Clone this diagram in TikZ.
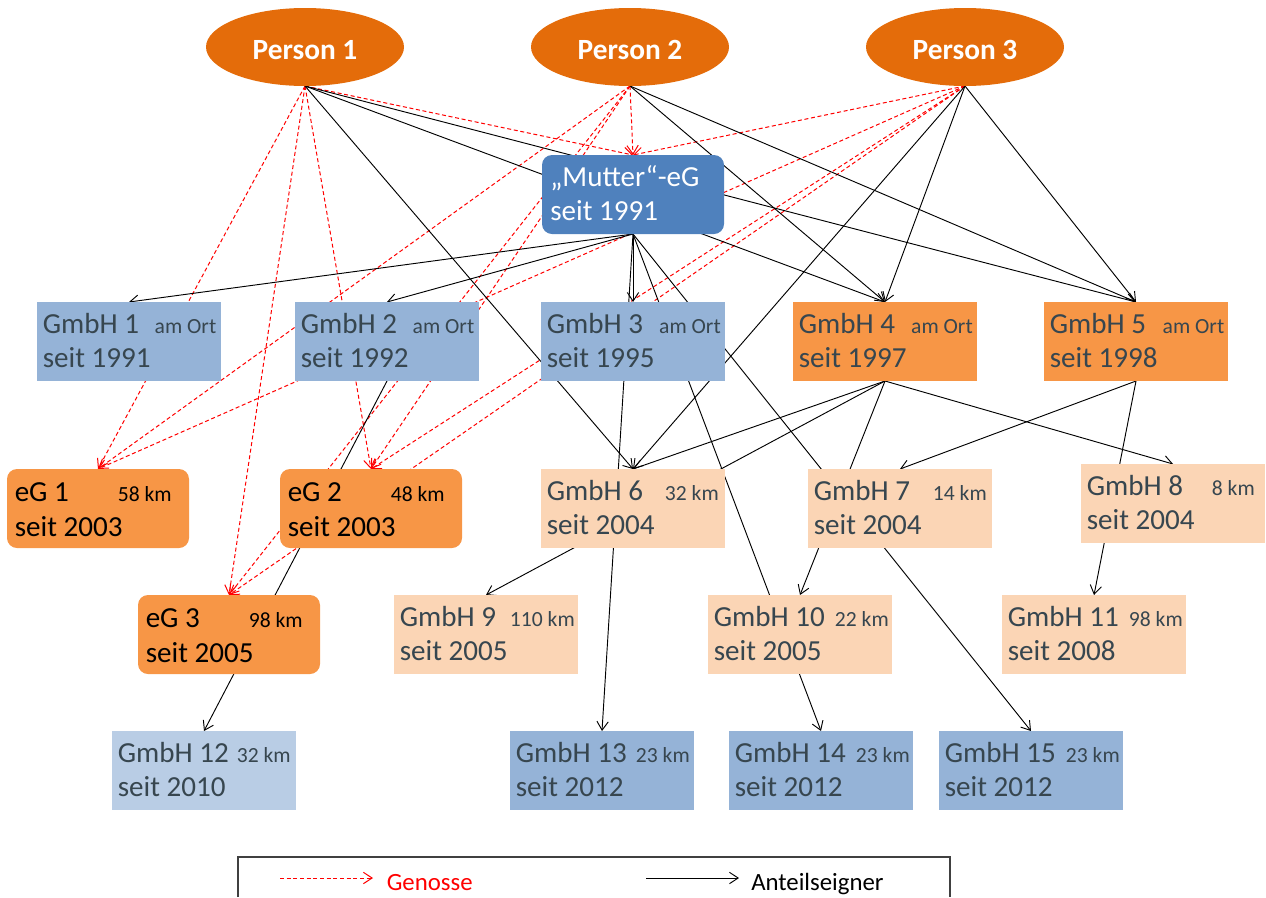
\documentclass[tikz,border=0pt]{standalone}
\usepackage{fontspec}
\setmainfont{Carlito}
\usetikzlibrary{shapes.geometric,arrows.meta,calc}
\pgfdeclarelayer{bg}
\pgfsetlayers{bg,main}
\definecolor{porange}{RGB}{228,108,10}
\definecolor{mblue}{RGB}{79,129,189}
\definecolor{lblue}{RGB}{149,179,215}
\definecolor{llblue}{RGB}{185,205,229}
\definecolor{orng}{RGB}{247,150,70}
\definecolor{peach}{RGB}{251,213,181}
\definecolor{txtgray}{RGB}{55,70,79}
\tikzset{
  box/.style={rectangle,draw=none,minimum width=138pt,minimum height=59.25pt,inner sep=0pt,outer sep=0pt},
  person/.style={ellipse,fill=porange,draw=none,minimum width=148.5pt,minimum height=58.5pt,inner sep=0pt,outer sep=0pt},
  ptxt/.style={anchor=base,text=white,font=\fontsize{22}{26}\selectfont\bfseries,inner sep=0pt},
  txt/.style={text=txtgray,font=\fontsize{21.8}{26}\selectfont,inner sep=0pt},
  sm/.style={text=txtgray,font=\fontsize{16.2}{19}\selectfont,inner sep=0pt},
  legtxt/.style={font=\fontsize{18.6}{22}\selectfont,inner sep=0pt,anchor=base west},
  tipv/.style={-{Straight Barb[length=6.5pt,width=8.5pt]}},
  gen/.style={red,line width=0.75pt,dash pattern=on 3pt off 2pt,tipv},
  own/.style={black,line width=0.7pt,tipv},
  legframe/.style={draw=black!75,line width=1.1pt}
}
% name, left, top, fill, main, small, year, gap
\newcommand\firm[8]{%
  \node[box,fill=#4] (#1) at (#2+92,#3+39.5) {};
  \node[txt,anchor=base west] (#1a) at ($(#1.north west)+(5.5,31)$) {#5};
  \node[sm,anchor=base east] (#1b) at ($(#1.north east)+(-#8,31)$) {#6};
  \node[txt,anchor=base west] (#1c) at ($(#1.north west)+(5.5,65)$) {#7};
}
% name, left, top, main, small, year
\newcommand\coop[6]{%
  \node[box,rounded corners=7.5pt,fill=orng,minimum width=136.5pt] (#1) at (#2+91,#3+39.5) {};
  \node[txt,text=black,anchor=base west] (#1a) at ($(#1.north west)+(7.5,32)$) {#4};
  \node[sm,text=black,anchor=base east] (#1b) at ($(#1.north east)+(-17,32)$) {#5};
  \node[txt,text=black,anchor=base west] (#1c) at ($(#1.north west)+(7.5,67.5)$) {#6};
}
\begin{document}
\begin{tikzpicture}[x=0.75pt,y=-0.75pt]
\useasboundingbox (0,0) rectangle (1266,897);

% persons
\node[person] (p1) at (305,47) {};
\node[ptxt] (p1t) at (305,59.5) {Person 1};
\node[person] (p2) at (630,47) {};
\node[ptxt] (p2t) at (630,59.5) {Person 2};
\node[person] (p3) at (965,47) {};
\node[ptxt] (p3t) at (965,59.5) {Person 3};

% Mutter-eG
\node[box,rounded corners=7.5pt,fill=mblue,minimum width=136.5pt] (mut) at (633,194.5) {};
\node[txt,text=white,anchor=base west] (muta) at ($(mut.north west)+(8,31.5)$) {„Mutter“-eG};
\node[txt,text=white,anchor=base west] (mutc) at ($(mut.north west)+(8,65)$) {seit 1991};

% row 1
\firm{g1}{37}{302}{lblue}{GmbH 1}{am Ort}{seit 1991}{4.5}
\firm{g2}{295}{302}{lblue}{GmbH 2}{am Ort}{seit 1992}{4.5}
\firm{g3}{541}{302}{lblue}{GmbH 3}{am Ort}{seit 1995}{4}
\firm{g4}{793}{302}{orng}{GmbH 4}{am Ort}{seit 1997}{4}
\firm{g5}{1044}{302}{orng}{GmbH 5}{am Ort}{seit 1998}{3.5}

% row 2
\coop{e1}{7}{469}{eG 1}{58 km}{seit 2003}
\coop{e2}{280}{469}{eG 2}{48 km}{seit 2003}
\firm{g6}{541}{469}{peach}{GmbH 6}{32 km}{seit 2004}{6}
\firm{g7}{808}{469}{peach}{GmbH 7}{14 km}{seit 2004}{5}
\firm{g8}{1081}{464}{peach}{GmbH 8}{8 km}{seit 2004}{10}

% row 3
\coop{e3}{138}{595}{eG 3}{98 km}{seit 2005}
\firm{g9}{394}{595}{peach}{GmbH 9}{110 km}{seit 2005}{3}
\firm{g10}{708}{595}{peach}{GmbH 10}{22 km}{seit 2005}{3}
\firm{g11}{1002}{595}{peach}{GmbH 11}{98 km}{seit 2008}{3}

% row 4
\firm{g12}{112}{731}{llblue}{GmbH 12}{32 km}{seit 2010}{5}
\firm{g13}{510}{731}{lblue}{GmbH 13}{23 km}{seit 2012}{4}
\firm{g14}{729}{731}{lblue}{GmbH 14}{23 km}{seit 2012}{3}
\firm{g15}{939}{731}{lblue}{GmbH 15}{23 km}{seit 2012}{3}

% connectors (behind the boxes)
\begin{pgfonlayer}{bg}
\foreach \s/\t in {p1/mut,p1/e1,p1/e2,p1/e3,p2/mut,p2/e1,p2/e2,p2/e3,p3/mut,p3/e1,p3/e2,p3/e3}
  \draw[gen] (\s.south) -- (\t.north);
\foreach \s/\t in {p1/g4,p1/g5,p1/g6,p2/g4,p2/g5,p3/g4,p3/g5,p3/g6,
                   mut/g1,mut/g2,mut/g3,mut/g13,mut/g14,mut/g15,
                   g2/g12,g4/g6,g4/g8,g4/g9,g4/g10,g5/g7,g5/g11}
  \draw[own] (\s.south) -- (\t.north);
\end{pgfonlayer}

% legend
\coordinate (lgA) at (238,897);
\coordinate (lgB) at (238,857);
\coordinate (lgC) at (950,857);
\coordinate (lgD) at (950,897);
\draw[legframe] (lgA) -- (lgB) -- (lgC) -- (lgD);
\coordinate (l1s) at (280,878);
\coordinate (l1e) at (373,878);
\draw[gen] (l1s) -- (l1e);
\node[legtxt,text=red] (l1t) at (386.5,890) {Genosse};
\coordinate (l2s) at (646,878);
\coordinate (l2e) at (739,878);
\draw[own] (l2s) -- (l2e);
\node[legtxt,text=black] (l2t) at (751,890) {Anteilseigner};
\end{tikzpicture}
\end{document}
